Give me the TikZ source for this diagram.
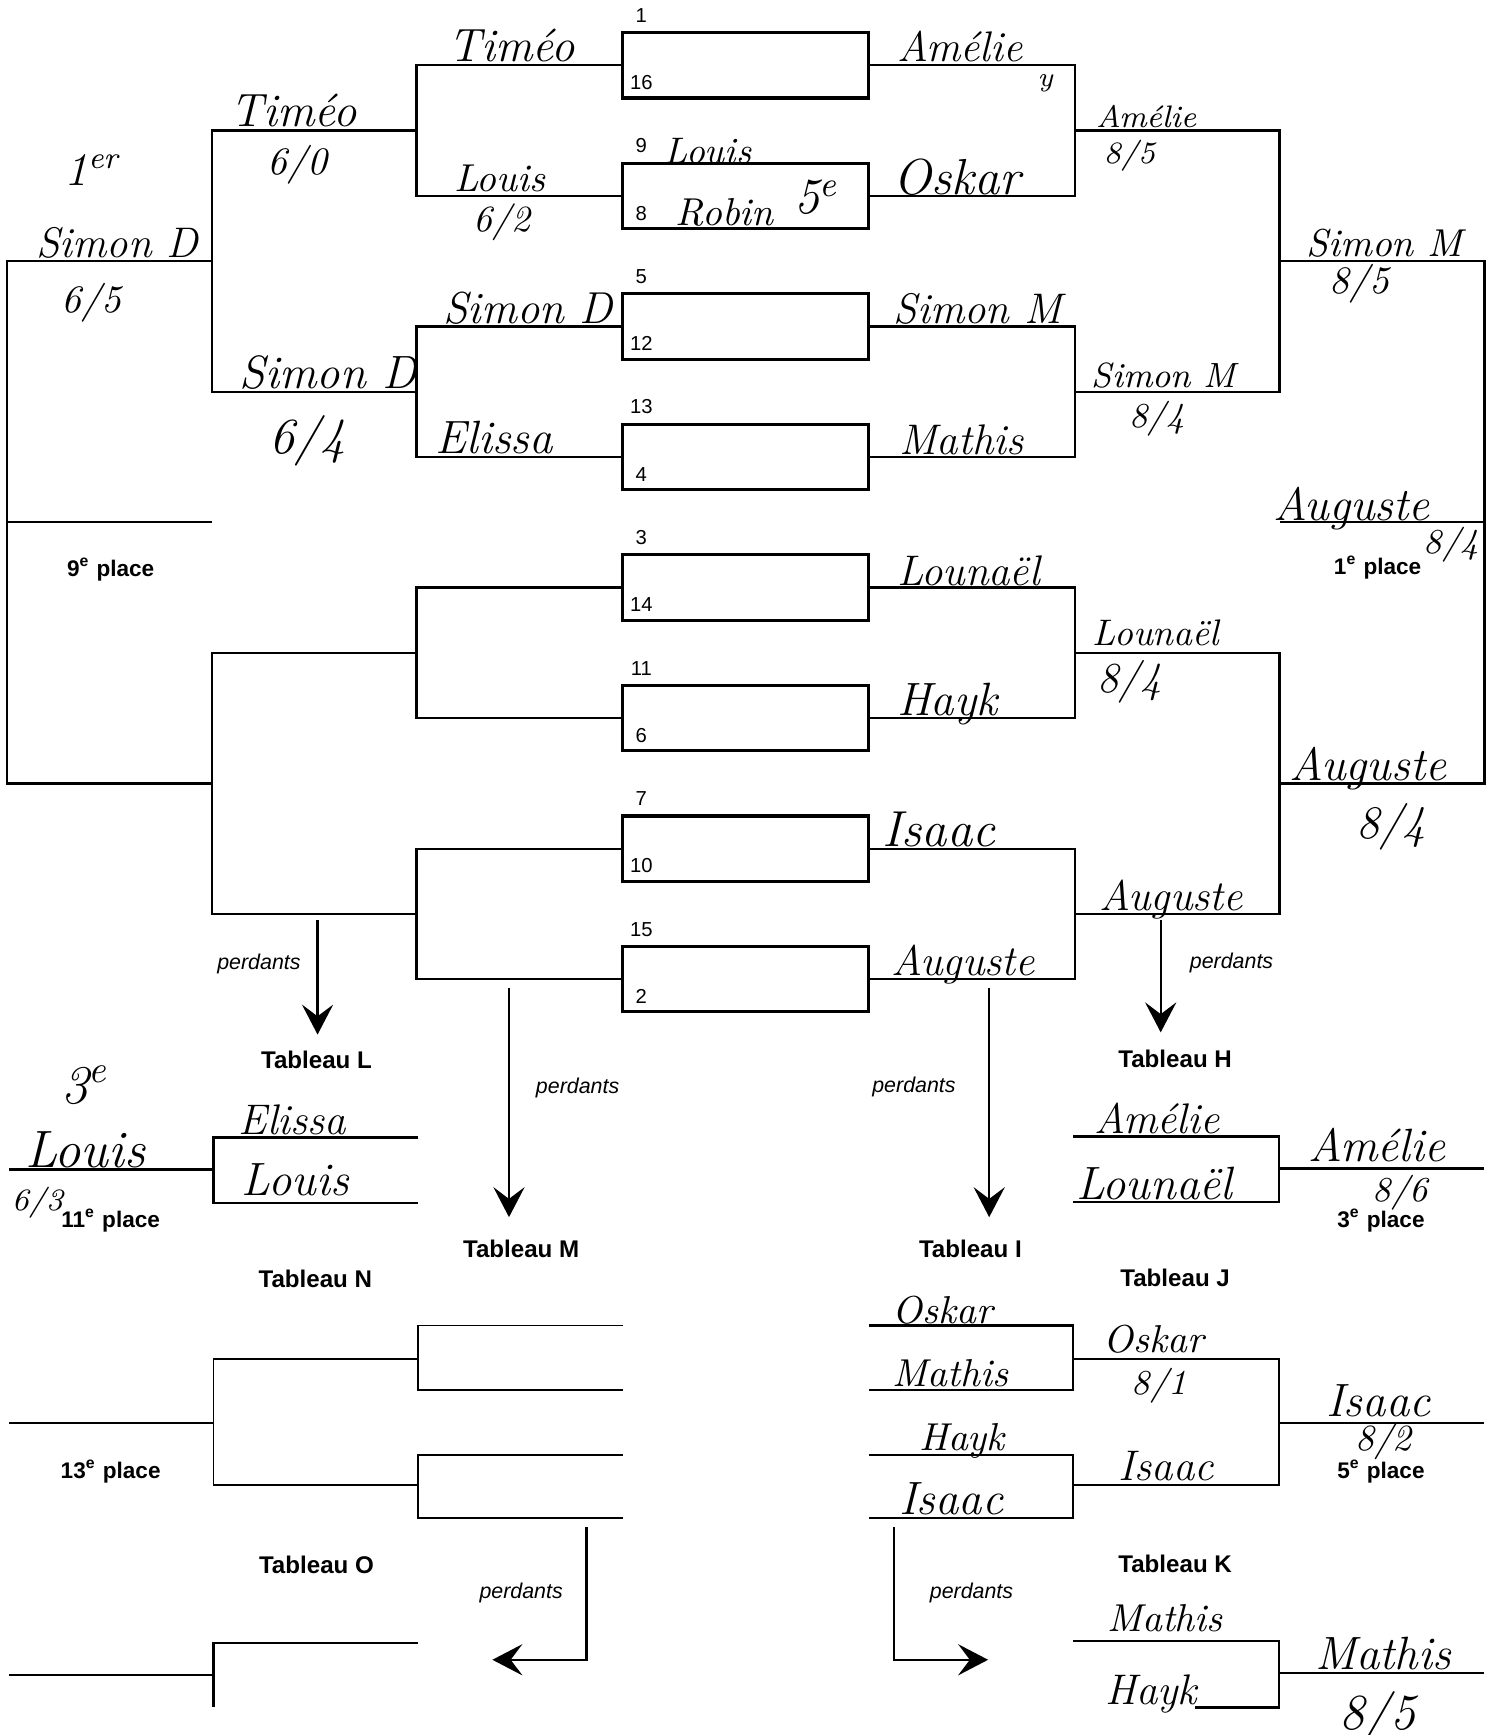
\documentclass[tikz,border=0pt]{standalone}
\usepackage{fontspec}
\newfontfamily\arialfont{Liberation Sans}
\usetikzlibrary{arrows.meta,calc,positioning}
\tikzset{
>={Stealth[length=7.7pt,width=8pt,inset=3pt]},
  duel/.style={
    rectangle,
    draw=black, line width=0.8pt,
    minimum width=2.22cm,
    minimum height=0.59cm,
    inner sep=0pt},
  seed/.style={font=\arialfont\fontsize{5.2}{6}\selectfont, inner sep=0pt, anchor=base},
  line/.style={draw, line width=0.6pt},
  thin line/.style={draw, line width=0.4pt},
  pile/.style={draw, line width=0.6pt, ->},
  hand/.style={font=\itshape\fontsize{#1}{#1}\selectfont, inner sep=0pt, anchor=base west},
  hand/.default=12,
  tableau/.style={font=\arialfont\bfseries\fontsize{6.2}{7}\selectfont, inner sep=0pt},
  rank/.style={font=\arialfont\bfseries\fontsize{5.8}{7}\selectfont, inner sep=0pt},
  perdants/.style={font=\arialfont\itshape\fontsize{5.5}{7}\selectfont, inner sep=0pt},
}
\begin{document}
\begin{tikzpicture}[x=0.01cm, y=-0.01cm]
    \useasboundingbox (0,0) rectangle (1352,1568);

    % premier tour
    \foreach \i/\sa/\sb in {1/1/16,2/9/8,3/5/12,4/13/4,5/3/14,6/11/6,7/7/10,8/15/2} {
      \node[duel] (m\i) at (674,{59+118*(\i-1)}) {};
      \node[seed] (sa\i) at ($(m\i.north west)+(18,-8)$) {\sa};
      \node[seed] (sb\i) at ($(m\i.south west)+(18,-9)$) {\sb};
    }

    % tableau principal
    \foreach \a/\b/\k in {1/2/1,3/4/2,5/6/3,7/8/4} {
      \draw[line] (m\a.west) -- ++(-185,0) |- (m\b.west);
      \draw[line] (m\a.east) -- ++(185,0) |- (m\b.east);
      \coordinate (lq\k) at ($(m\a.west)!.5!(m\b.west)+(-185,0)$);
      \coordinate (rq\k) at ($(m\a.east)!.5!(m\b.east)+(185,0)$);
    }
    \foreach \a/\b/\k in {1/2/1,3/4/2} {
      \draw[line] (lq\a) -- ++(-185,0) |- (lq\b);
      \draw[line] (rq\a) -- ++(185,0) |- (rq\b);
      \coordinate (ls\k) at ($(lq\a)!.5!(lq\b)+(-185,0)$);
      \coordinate (rs\k) at ($(rq\a)!.5!(rq\b)+(185,0)$);
    }
    \draw[line] (ls1) -- ++(-185,0) |- (ls2);
    \draw[line] (rs1) -- ++(185,0) |- (rs2);
    \coordinate (lf) at ($(ls1)!.5!(ls2)+(-185,0)$);
    \coordinate (rf) at ($(rs1)!.5!(rs2)+(185,0)$);
    \draw[line] (lf) -- ++(185,0);
    \draw[line] (rf) -- ++(-185,0);

    % tableaux L et H
    \draw[line] (378,1028) -| (193,1087) -- (378,1087);
    \draw[line] (193,1057) -- (8,1057);
    \draw[line] (970,1027) -| (1156,1086) -- (970,1086);
    \draw[line] (1156,1056) -- (1341,1056);

    % tableaux N, I et J
    \draw[thin line] (563,1198) -| (378,1256) -- (563,1256);
    \draw[thin line] (563,1315) -| (378,1372) -- (563,1372);
    \draw[thin line] (378,1228) -| (193,1342) -- (378,1342);
    \draw[thin line] (193,1286) -- (8,1286);
    \draw[line] (785,1198) -| (970,1256) -- (785,1256);
    \draw[line] (785,1315) -| (970,1372) -- (785,1372);
    \draw[line] (970,1228) -| (1156,1342) -- (970,1342);
    \draw[line] (1156,1286) -- (1341,1286);

    % tableaux O et K
    \draw[line] (378,1485) -| (193,1543);
    \draw[line] (193,1514) -- (8,1514);
    \draw[line] (970,1483) -| (1156,1543) -- (1080,1543);
    \draw[line] (1156,1512) -- (1341,1512);

    % perdants
    \coordinate (pL) at (287,831);   \coordinate (pLe) at (287,935);
    \coordinate (pM) at (460,893);   \coordinate (pMe) at (460,1100);
    \coordinate (pI) at (894,893);   \coordinate (pIe) at (894,1100);
    \coordinate (pH) at (1049,831);  \coordinate (pHe) at (1049,933);
    \coordinate (pO) at (530,1380);  \coordinate (pOe) at (445,1500);
    \coordinate (pK) at (808,1380);  \coordinate (pKe) at (893,1500);
    \draw[pile] (pL) -- (pLe);
    \draw[pile] (pM) -- (pMe);
    \draw[pile] (pI) -- (pIe);
    \draw[pile] (pH) -- (pHe);
    \draw[pile] (pO) |- (pOe);
    \draw[pile] (pK) |- (pKe);
    \node[perdants] (pdL) at (234,871) {perdants};
    \node[perdants] (pdM) at (522,983) {perdants};
    \node[perdants] (pdI) at (826,982) {perdants};
    \node[perdants] (pdH) at (1113,870) {perdants};
    \node[perdants] (pdO) at (471,1440) {perdants};
    \node[perdants] (pdK) at (878,1440) {perdants};

    % titres
    \node[tableau] (tabL) at (286,958) {Tableau L};
    \node[tableau] (tabH) at (1062,957) {Tableau H};
    \node[tableau] (tabM) at (471,1129) {Tableau M};
    \node[tableau] (tabI) at (877,1129) {Tableau I};
    \node[tableau] (tabN) at (285,1156) {Tableau N};
    \node[tableau] (tabJ) at (1062,1155) {Tableau J};
    \node[tableau] (tabO) at (286,1414) {Tableau O};
    \node[tableau] (tabK) at (1062,1413) {Tableau K};

    % places
    \node[rank] (r9) at (100,515) {9\textsuperscript{e} place};
    \node[rank] (r1) at (1245,513) {1\textsuperscript{e} place};
    \node[rank] (r11) at (100,1103) {11\textsuperscript{e} place};
    \node[rank] (r3) at (1248,1103) {3\textsuperscript{e} place};
    \node[rank] (r13) at (100,1330) {13\textsuperscript{e} place};
    \node[rank] (r5) at (1248,1330) {5\textsuperscript{e} place};

    % resultats, cote gauche
    \node[hand] (hTimeoA) at (405,56) {Timéo};
    \node[hand] (hTimeoB) at (208,114) {Timéo};
    \node[hand=10] (sTimeo) at (241,158) {6/0};
    \node[hand=10] (hLouisA) at (410,173) {Louis};
    \node[hand=9.5] (sLouis) at (427,209) {6/2};
    \node[hand] (hFirst) at (58,168) {1\textsuperscript{er}};
    \node[hand=11] (hSimonDA) at (32,233) {Simon D};
    \node[hand=10] (sSimonDA) at (55,282) {6/5};
    \node[hand=11.5] (hSimonDB) at (400,292) {Simon D};
    \node[hand=12] (hSimonDC) at (216,351) {Simon D};
    \node[hand=13] (sSimonDC) at (243,410) {6/4};
    \node[hand] (hElissaA) at (393,410) {Elissa};
    \node[hand=9.5] (hLouisB) at (600,148) {Louis};
    \node[hand=10] (hRobin) at (610,204) {Robin};
    \node[hand=13] (hFifth) at (717,193) {5\textsuperscript{e}};

    % resultats, cote droit
    \node[hand=11] (hAmelieA) at (810,56) {Amélie};
    \node[hand=7] (hY) at (937,78) {y};
    \node[hand=8] (hAmelieB) at (990,115) {Amélie};
    \node[hand=8] (sAmelieB) at (997,148) {8/5};
    \node[hand=13] (hOskarA) at (807,176) {Oskar};
    \node[hand=11] (hSimonMA) at (807,292) {Simon M};
    \node[hand=9] (hSimonMB) at (986,350) {Simon M};
    \node[hand=9] (sSimonMB) at (1020,386) {8/4};
    \node[hand=11] (hMathisA) at (812,411) {Mathis};
    \node[hand=10] (hSimonMC) at (1180,232) {Simon M};
    \node[hand=10] (sSimonMC) at (1201,265) {8/5};
    \node[hand] (hAugusteA) at (1150,470) {Auguste};
    \node[hand=9] (sAugusteA) at (1286,500) {8/4};
    \node[hand=11] (hLounaelA) at (810,529) {Lounaël};
    \node[hand=9.5] (hLounaelB) at (987,583) {Lounaël};
    \node[hand=11] (sLounaelB) at (991,626) {8/4};
    \node[hand] (hHaykA) at (810,647) {Hayk};
    \node[hand=13] (hIsaacA) at (797,765) {Isaac};
    \node[hand=11] (hAugusteB) at (993,823) {Auguste};
    \node[hand=11] (hAugusteC) at (805,882) {Auguste};
    \node[hand] (hAugusteD) at (1165,705) {Auguste};
    \node[hand] (sAugusteD) at (1225,758) {8/4};

    % tableaux L et H
    \node[hand=14] (hThird) at (55,997) {3\textsuperscript{e}};
    \node[hand=13.5] (hLouisC) at (22,1055) {Louis};
    \node[hand=8] (sLouisC) at (10,1094) {6/3};
    \node[hand=11] (hElissaB) at (215,1025) {Elissa};
    \node[hand] (hLouisD) at (218,1080) {Louis};
    \node[hand=11] (hAmelieC) at (988,1024) {Amélie};
    \node[hand] (hLounaelC) at (972,1084) {Lounaël};
    \node[hand] (hAmelieD) at (1182,1050) {Amélie};
    \node[hand=9] (sAmelieD) at (1240,1086) {8/6};

    % tableaux I, J et K
    \node[hand=10] (hOskarB) at (806,1196) {Oskar};
    \node[hand=10] (hMathisB) at (806,1253) {Mathis};
    \node[hand=10] (hHaykB) at (830,1311) {Hayk};
    \node[hand] (hIsaacB) at (812,1369) {Isaac};
    \node[hand=10] (hOskarC) at (997,1222) {Oskar};
    \node[hand=9] (sOskarC) at (1022,1260) {8/1};
    \node[hand=11] (hIsaacC) at (1010,1338) {Isaac};
    \node[hand] (hIsaacD) at (1198,1280) {Isaac};
    \node[hand=9.5] (sIsaacD) at (1224,1311) {8/2};
    \node[hand=10] (hMathisC) at (1000,1474) {Mathis};
    \node[hand=11] (hHaykC) at (998,1540) {Hayk};
    \node[hand] (hMathisD) at (1188,1509) {Mathis};
    \node[hand=13] (sMathisD) at (1210,1563) {8/5};

\end{tikzpicture}
\end{document}
